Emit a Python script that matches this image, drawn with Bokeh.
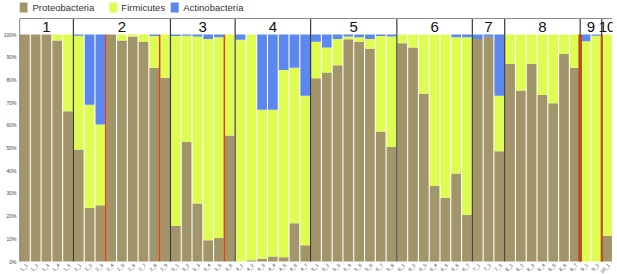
import math
from bokeh.plotting import figure
from bokeh.models import Range1d, FixedTicker, ColumnDataSource
from bokeh.core.properties import value
from bokeh.embed import file_html
from bokeh.resources import INLINE

# ---- data ----
groups = ["1", "2", "3", "4", "5", "6", "7", "8", "9", "10"]
group_sizes = [5, 9, 6, 7, 8, 7, 3, 7, 2, 1]
series = ["Proteobacteria", "Firmicutes", "Actinobacteria"]

proteobacteria = [100, 100, 100, 97.4, 66.2,
                  49.3, 23.6, 24.8, 100, 97.4, 99.1, 96.8, 85.3, 80.9,
                  15.7, 52.6, 25.5, 9.4, 10.4, 55.5,
                  0, 0.5, 1.2, 2.2, 1.9, 16.9, 7.2,
                  80.7, 83.3, 86.5, 97.9, 96.8, 93.7, 57.3, 50.4,
                  96.2, 94.3, 73.9, 33.3, 28.1, 38.8, 20.6,
                  98.0, 99.0, 48.6,
                  87.0, 75.3, 87.0, 73.4, 69.7, 91.5, 85.3,
                  0, 0,
                  11.3]
firmicutes = [0, 0, 0, 2.6, 33.8,
              50.1, 45.4, 35.6, 0, 2.6, 0.9, 3.2, 14.0, 19.1,
              83.6, 46.9, 73.6, 88.6, 88.4, 44.5,
              97.7, 99.5, 65.6, 64.6, 82.5, 68.5, 65.8,
              16.1, 11.0, 11.5, 1.2, 2.0, 4.3, 42.0, 48.7,
              3.8, 5.7, 26.1, 66.7, 71.9, 60.0, 78.2,
              0, 0, 24.4,
              13.0, 24.7, 13.0, 26.6, 30.3, 8.5, 14.7,
              97.0, 99.5,
              88.7]
actinobacteria = [0, 0, 0, 0, 0,
                  0.6, 31.0, 39.6, 0, 0, 0, 0, 0.7, 0,
                  0.7, 0.5, 0.9, 2.0, 1.2, 0,
                  2.3, 0, 33.2, 33.2, 15.6, 14.6, 27.0,
                  3.2, 5.7, 2.0, 0.9, 1.2, 2.0, 0.7, 0.9,
                  0, 0, 0, 0, 0, 1.2, 1.2,
                  2.0, 1.0, 27.0,
                  0, 0, 0, 0, 0, 0, 0,
                  3.0, 0.5,
                  0]
sample_labels = [f"{g}_{k}" for g, n in zip(groups, group_sizes) for k in range(1, n + 1)]
red_after = ["2_3", "2_8", "3_5"]          # thin red markers after these samples
red_thick_after = ["8_7"]                   # thick red marker
red_after_2 = ["9_2"]
y_ticks = [0, 10, 20, 30, 40, 50, 60, 70, 80, 90, 100]

colors = ["#a3956a", "#dffc52", "#5b87ee"]

N = len(sample_labels)
xs = list(range(N))

PX = 227 / 100.0  # px per unit (0% at y=261, 100% at y=34)
y_top = 261 / PX
y_bot = -13 / PX
header_top = (261 - 18) / PX

p = figure(width=617, height=274, output_backend="svg", toolbar_location=None,
           x_range=Range1d(-0.5, N - 0.5), y_range=Range1d(y_bot, y_top),
           x_axis_location=None,
           min_border_left=18, min_border_right=5, min_border_top=0, min_border_bottom=0)
p.outline_line_color = None
p.grid.visible = False
p.background_fill_color = "white"

src = ColumnDataSource(dict(x=xs, Proteobacteria=proteobacteria, Firmicutes=firmicutes,
                            Actinobacteria=actinobacteria))
p.vbar_stack(series, x="x", width=0.9, color=colors, source=src, line_color=None)

# group boundaries
bounds = []
c = 0
for n in group_sizes:
    c += n
    bounds.append(c - 0.5)
inner = bounds[:-1]
p.segment(x0=inner, y0=[0] * len(inner), x1=inner, y1=[header_top] * len(inner),
          line_color="#3a3a3a", line_width=1.2)
# left border and header top line
p.segment(x0=[-0.5], y0=[0], x1=[-0.5], y1=[header_top], line_color="#3a3a3a", line_width=1.2)
p.segment(x0=[-0.5], y0=[header_top], x1=[N - 0.5], y1=[header_top], line_color="#8a8a8a", line_width=1)

# red markers
rx = [sample_labels.index(s) + 0.5 for s in red_after]
p.segment(x0=rx, y0=[0] * len(rx), x1=rx, y1=[100] * len(rx), line_color="#e0431a", line_width=1.5)
rx2 = [sample_labels.index(s) + 0.5 for s in red_after_2]
p.segment(x0=rx2, y0=[0] * len(rx2), x1=rx2, y1=[100] * len(rx2), line_color="#c8451a", line_width=2)
rxt = [sample_labels.index(s) + 0.5 for s in red_thick_after]
p.segment(x0=rxt, y0=[0] * len(rxt), x1=rxt, y1=[100] * len(rxt), line_color="#b8481c", line_width=3.5)

# group numbers
starts = [-0.5] + bounds[:-1]
centers = [(a + b) / 2 for a, b in zip(starts, bounds)]
p.text(x=centers, y=[(261 - 26) / PX] * len(centers), text=groups, text_align="center",
       text_baseline="middle", text_font=value("Liberation Sans"),
       text_font_size=value("15px"), text_color="#111111")

# legend
def px2x(px):
    return (px - 18) / ((612 - 18) / N) - 0.5

ly = (261 - 7) / PX
sq_px = [22, 112, 173.5]
tx_px = [31, 120, 182]
p.rect(x=[px2x(v) for v in sq_px], y=[ly] * 3, width=8, height=10,
       width_units="screen", height_units="screen", color=colors, line_color=None)
p.text(x=[px2x(v) for v in tx_px], y=[ly] * 3, text=series, text_align="left",
       text_baseline="middle", text_font=value("Liberation Sans"),
       text_font_size=value("9.5px"), text_color="#333333")

# sample labels (slanted)
p.text(x=[x + 0.15 for x in xs], y=[-1.2] * N, text=sample_labels, angle=math.pi / 4,
       text_align="right", text_baseline="middle", text_font=value("Liberation Sans"),
       text_font_size=value("5px"), text_color="#444444")

# y axis
p.yaxis.ticker = FixedTicker(ticks=y_ticks)
p.yaxis.major_label_overrides = {t: f"{t}%" for t in y_ticks}
p.yaxis.axis_line_color = None
p.yaxis.major_tick_line_color = None
p.yaxis.major_tick_out = 0
p.yaxis.major_tick_in = 0
p.yaxis.minor_tick_line_color = None
p.yaxis.minor_tick_out = 0
p.yaxis.major_label_text_font_size = "5px"
p.yaxis.major_label_text_color = "#444444"
p.yaxis.major_label_standoff = 3

open("out.html", "w").write(file_html(p, INLINE))
